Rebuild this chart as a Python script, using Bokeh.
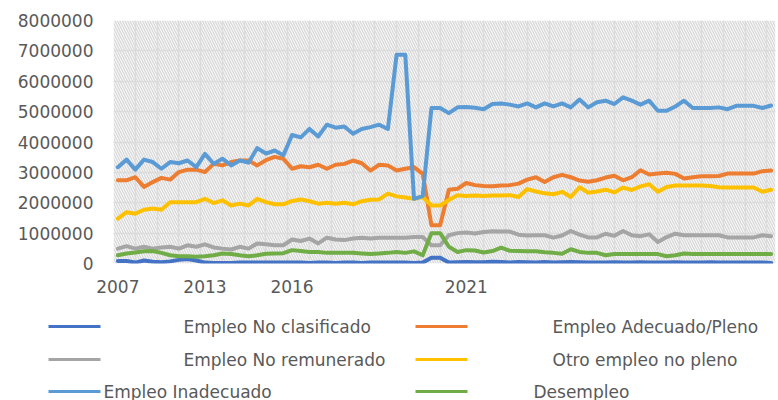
from bokeh.plotting import figure
from bokeh.models import Range1d, FixedTicker, BasicTickFormatter, BoxAnnotation, ColumnDataSource
from bokeh.layouts import column
from bokeh.core.properties import value
from bokeh.embed import file_html
from bokeh.resources import INLINE

# ---------------- data ----------------
tick_index = [0, 10, 20, 40]
tick_labels = ["2007", "2013", "2016", "2021"]

no_clasificado = [80000, 80000, 30000, 100000, 60000, 40000, 70000, 120000, 150000, 100000,
                  30000, 20000, 20000, 20000, 30000, 30000, 30000, 30000, 30000, 30000,
                  30000, 30000, 20000, 30000, 30000, 20000, 30000, 30000, 20000, 30000,
                  30000, 30000, 30000, 30000, 20000, 30000, 190000, 190000, 30000, 40000,
                  50000, 40000, 40000, 60000, 50000, 30000, 50000, 40000, 30000, 50000,
                  30000, 40000, 50000, 40000, 30000, 30000, 30000, 40000, 30000, 30000,
                  40000, 30000, 30000, 30000, 40000, 30000, 30000, 30000, 40000, 30000,
                  30000, 30000, 30000, 30000, 30000, 20000]

adecuado = [2740000, 2740000, 2840000, 2520000, 2680000, 2820000, 2760000, 3010000, 3090000, 3090000,
            3010000, 3280000, 3230000, 3340000, 3390000, 3390000, 3230000, 3400000, 3510000, 3450000,
            3120000, 3200000, 3170000, 3250000, 3120000, 3250000, 3280000, 3390000, 3300000, 3060000,
            3250000, 3230000, 3060000, 3120000, 3170000, 2950000, 1260000, 1260000, 2430000, 2460000,
            2650000, 2580000, 2550000, 2540000, 2570000, 2580000, 2630000, 2760000, 2840000, 2680000,
            2840000, 2920000, 2840000, 2730000, 2690000, 2740000, 2830000, 2890000, 2740000, 2840000,
            3070000, 2930000, 2960000, 2990000, 2950000, 2800000, 2840000, 2870000, 2870000, 2880000,
            2960000, 2960000, 2960000, 2960000, 3040000, 3060000]

no_remunerado = [490000, 570000, 490000, 550000, 490000, 530000, 550000, 490000, 600000, 550000,
                 630000, 530000, 490000, 460000, 550000, 490000, 660000, 630000, 600000, 600000,
                 790000, 740000, 820000, 660000, 850000, 790000, 770000, 820000, 850000, 820000,
                 850000, 850000, 850000, 850000, 870000, 870000, 600000, 600000, 930000, 1000000,
                 1020000, 990000, 1040000, 1060000, 1050000, 1050000, 950000, 920000, 930000, 930000,
                 850000, 920000, 1070000, 950000, 860000, 860000, 980000, 910000, 1070000, 930000,
                 900000, 960000, 710000, 870000, 980000, 930000, 930000, 930000, 930000, 930000,
                 860000, 860000, 860000, 860000, 930000, 900000]

otro_no_pleno = [1480000, 1690000, 1640000, 1770000, 1810000, 1770000, 2020000, 2020000, 2020000, 2020000,
                 2130000, 1990000, 2080000, 1910000, 1970000, 1910000, 2130000, 2020000, 1950000, 1950000,
                 2060000, 2110000, 2050000, 1970000, 2000000, 1970000, 2000000, 1950000, 2050000, 2100000,
                 2110000, 2300000, 2210000, 2170000, 2130000, 2190000, 1910000, 1910000, 2090000, 2250000,
                 2220000, 2240000, 2220000, 2240000, 2240000, 2250000, 2190000, 2450000, 2370000, 2310000,
                 2280000, 2360000, 2190000, 2510000, 2330000, 2370000, 2430000, 2340000, 2500000, 2420000,
                 2540000, 2610000, 2360000, 2520000, 2570000, 2570000, 2570000, 2570000, 2550000, 2510000,
                 2500000, 2500000, 2500000, 2500000, 2360000, 2430000]

inadecuado = [3170000, 3420000, 3090000, 3420000, 3340000, 3120000, 3340000, 3300000, 3390000, 3170000,
              3610000, 3280000, 3450000, 3230000, 3390000, 3320000, 3800000, 3620000, 3720000, 3560000,
              4230000, 4150000, 4430000, 4180000, 4570000, 4470000, 4510000, 4270000, 4430000, 4490000,
              4570000, 4430000, 6870000, 6870000, 2130000, 2220000, 5120000, 5120000, 4950000, 5140000,
              5150000, 5130000, 5080000, 5250000, 5270000, 5230000, 5170000, 5270000, 5140000, 5270000,
              5170000, 5270000, 5140000, 5400000, 5140000, 5310000, 5360000, 5250000, 5470000, 5360000,
              5230000, 5360000, 5030000, 5030000, 5170000, 5360000, 5120000, 5120000, 5120000, 5140000,
              5080000, 5190000, 5190000, 5190000, 5120000, 5200000]

desempleo = [270000, 330000, 360000, 400000, 410000, 350000, 270000, 240000, 240000, 220000,
             240000, 270000, 330000, 310000, 270000, 240000, 270000, 320000, 330000, 340000,
             440000, 410000, 380000, 380000, 350000, 350000, 350000, 350000, 330000, 310000,
             330000, 350000, 380000, 350000, 400000, 270000, 1000000, 1000000, 550000, 380000,
             440000, 430000, 360000, 410000, 520000, 420000, 410000, 400000, 400000, 370000,
             350000, 320000, 470000, 380000, 350000, 350000, 270000, 310000, 310000, 310000,
             310000, 310000, 310000, 240000, 270000, 330000, 310000, 310000, 310000, 310000,
             310000, 310000, 310000, 310000, 310000, 310000]

series_names = ["Empleo No clasificado", "Empleo Adecuado/Pleno", "Empleo No remunerado",
                "Otro empleo no pleno", "Empleo Inadecuado", "Desempleo"]
series_values = [no_clasificado, adecuado, no_remunerado, otro_no_pleno, inadecuado, desempleo]
series_colors = ["#4472C4", "#ED7D31", "#A5A5A5", "#FFC000", "#5B9BD5", "#70AD47"]

y_ticks = [0, 1000000, 2000000, 3000000, 4000000, 5000000, 6000000, 7000000, 8000000]

FONT = "DejaVu Sans"
TXT = "#595959"
W = 778

# ---------------- main chart ----------------
n = len(inadecuado)
xs = list(range(n))

p = figure(width=W, height=300, output_backend="svg", toolbar_location=None,
           x_range=Range1d(-0.5, n - 0.5), y_range=Range1d(0, 8000000),
           min_border_left=113, min_border_right=3, min_border_top=20, min_border_bottom=37)
p.frame_align = False
p.outline_line_color = None
p.background_fill_color = "white"
p.border_fill_color = "white"

hatch = BoxAnnotation(fill_color=None, line_color=None, hatch_pattern="\\",
                      hatch_color="#dadada", hatch_weight=1.5, hatch_scale=5, level="underlay")
p.add_layout(hatch)

p.yaxis.ticker = FixedTicker(ticks=y_ticks)
p.ygrid.ticker = FixedTicker(ticks=y_ticks)
p.yaxis.formatter = BasicTickFormatter(use_scientific=False)
p.xaxis.ticker = FixedTicker(ticks=tick_index)
p.xaxis.major_label_overrides = {k: v for k, v in zip(tick_index, tick_labels)}
p.xgrid.ticker = FixedTicker(ticks=[-0.5 + 2.5 * k for k in range(31)])

for g in (p.xgrid, p.ygrid):
    g.grid_line_color = "#dedede"
    g.grid_line_width = 1.5

for ax in (p.xaxis, p.yaxis):
    ax.axis_line_color = None
    ax.major_tick_line_color = None
    ax.minor_tick_line_color = None
    ax.major_tick_in = 0
    ax.major_tick_out = 0
    ax.minor_tick_in = 0
    ax.minor_tick_out = 0
    ax.major_label_text_font = FONT
    ax.major_label_text_font_size = "17px"
    ax.major_label_text_color = TXT
p.yaxis.major_label_standoff = 20
p.xaxis.major_label_standoff = 16

for vals, col in zip(series_values, series_colors):
    p.line(xs, vals, line_color=col, line_width=4, line_join="round", line_cap="round")

# ---------------- legend (custom, 3 rows x 2 columns) ----------------
LH = 100
leg = figure(width=W, height=LH, output_backend="svg", toolbar_location=None,
             x_range=Range1d(0, W), y_range=Range1d(LH, 0),
             x_axis_location=None, y_axis_location=None, min_border=0)
leg.frame_align = False
leg.outline_line_color = None
leg.grid.visible = False
leg.background_fill_color = "white"
leg.border_fill_color = "white"

row_y = [26, 59, 91]
line_x = [(48, 100), (415, 467)]
text_x = [[183, 552], [183, 552], [103, 533]]

seg = dict(x0=[], x1=[], y=[], c=[])
txt = dict(x=[], y=[], t=[])
for i, (name, col) in enumerate(zip(series_names, series_colors)):
    r, c = divmod(i, 2)
    seg["x0"].append(line_x[c][0]); seg["x1"].append(line_x[c][1])
    seg["y"].append(row_y[r]); seg["c"].append(col)
    txt["x"].append(text_x[r][c]); txt["y"].append(row_y[r]); txt["t"].append(name)

leg.segment(x0="x0", y0="y", x1="x1", y1="y", line_color="c", line_width=3,
            source=ColumnDataSource(seg))
leg.text(x="x", y="y", text="t", source=ColumnDataSource(txt),
         text_font=value(FONT), text_font_size=value("17px"), text_color=TXT,
         text_baseline="middle", text_align="left")

layout = column(p, leg, spacing=0)
open("out.html", "w").write(file_html(layout, INLINE))
